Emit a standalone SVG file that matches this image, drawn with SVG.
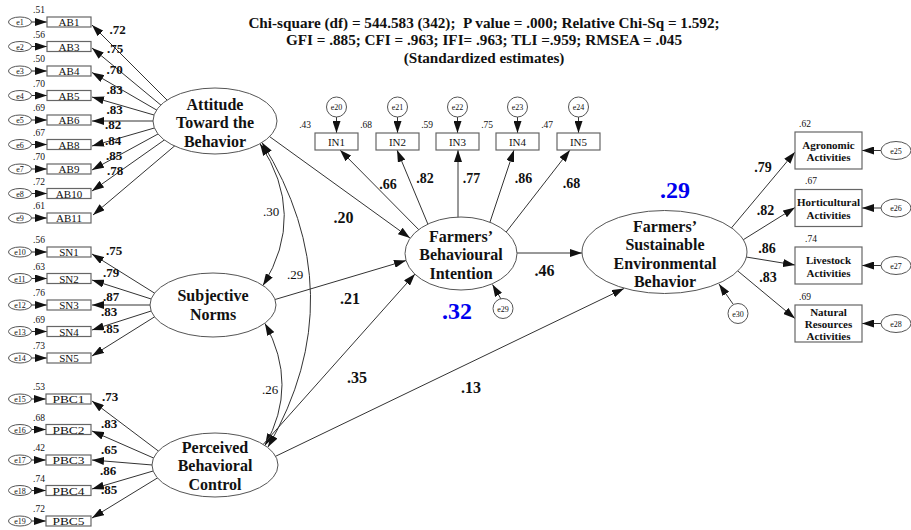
<svg xmlns="http://www.w3.org/2000/svg" width="911" height="530" viewBox="0 0 911 530">
<style>
text{font-family:"Liberation Serif","Times New Roman",serif;fill:#111}
.lat{fill:#fff;stroke:#555;stroke-width:1}
.obs{fill:#fff;stroke:#666;stroke-width:1.2}
.err{fill:#fff;stroke:#555;stroke-width:1}
.ln{fill:none;stroke:#333;stroke-width:1;marker-end:url(#ah)}
.cov{fill:none;stroke:#333;stroke-width:1;marker-end:url(#ah);marker-start:url(#ahs)}
.lt{font-size:16px;font-weight:bold;text-anchor:middle}
.bx{font-size:11px;text-anchor:middle}
.rb{font-size:11px;font-weight:bold;text-anchor:middle}
.el{font-size:8px;text-anchor:middle}
.r2{font-size:9.5px}
.ld{font-size:13px;font-weight:bold;text-anchor:middle}
.ld2{font-size:14px;font-weight:bold;text-anchor:middle}
.sp{font-size:16px;font-weight:bold;text-anchor:middle}
.cv{font-size:13px;text-anchor:middle}
.big{font-size:24px;font-weight:bold;text-anchor:middle;fill:#0000ee}
.ttl{font-size:15.2px;font-weight:bold;text-anchor:middle}
</style>
<defs>
<marker id="ah" markerUnits="userSpaceOnUse" markerWidth="13" markerHeight="8" refX="12" refY="4" orient="auto"><path d="M0,0 L12,4 L0,8 z" fill="#111"/></marker>
<marker id="ahs" markerUnits="userSpaceOnUse" markerWidth="13" markerHeight="8" refX="12" refY="4" orient="auto-start-reverse"><path d="M0,0 L12,4 L0,8 z" fill="#111"/></marker>
</defs>

<g id="title">
<text class="ttl" x="484" y="27.5" xml:space="preserve">Chi-square (df) = 544.583 (342);  P value = .000; Relative Chi-Sq = 1.592;</text>
<text class="ttl" x="484" y="45">GFI = .885; CFI = .963; IFI= .963; TLI =.959; RMSEA = .045</text>
<text class="ttl" x="484" y="62.5">(Standardized estimates)</text>
</g>

<g id="connectors">
<line class="ln" x1="31.5" y1="22" x2="47" y2="22"/>
<line class="ln" x1="31.5" y1="46.5" x2="47" y2="46.5"/>
<line class="ln" x1="31.5" y1="71" x2="47" y2="71"/>
<line class="ln" x1="31.5" y1="95.5" x2="47" y2="95.5"/>
<line class="ln" x1="31.5" y1="120" x2="47" y2="120"/>
<line class="ln" x1="31.5" y1="144.5" x2="47" y2="144.5"/>
<line class="ln" x1="31.5" y1="169" x2="47" y2="169"/>
<line class="ln" x1="31.5" y1="193.5" x2="47" y2="193.5"/>
<line class="ln" x1="31.5" y1="218" x2="47" y2="218"/>
<line class="ln" x1="31.5" y1="252" x2="47" y2="252"/>
<line class="ln" x1="31.5" y1="278.5" x2="47" y2="278.5"/>
<line class="ln" x1="31.5" y1="305" x2="47" y2="305"/>
<line class="ln" x1="31.5" y1="331.5" x2="47" y2="331.5"/>
<line class="ln" x1="31.5" y1="358" x2="47" y2="358"/>
<line class="ln" x1="31.5" y1="399" x2="46" y2="399"/>
<line class="ln" x1="31.5" y1="429.5" x2="46" y2="429.5"/>
<line class="ln" x1="31.5" y1="460" x2="46" y2="460"/>
<line class="ln" x1="31.5" y1="490.5" x2="46" y2="490.5"/>
<line class="ln" x1="31.5" y1="521" x2="46" y2="521"/>
<line class="ln" x1="170" y1="103" x2="92" y2="25"/>
<line class="ln" x1="163.9" y1="107.6" x2="92" y2="48"/>
<line class="ln" x1="160" y1="112" x2="92" y2="72.5"/>
<line class="ln" x1="157.8" y1="116.1" x2="92" y2="97"/>
<line class="ln" x1="157" y1="121" x2="92" y2="121"/>
<line class="ln" x1="158.2" y1="126.9" x2="92" y2="146"/>
<line class="ln" x1="161.5" y1="132.1" x2="92" y2="170"/>
<line class="ln" x1="167.6" y1="137.7" x2="92" y2="191"/>
<line class="ln" x1="177.6" y1="143.4" x2="93" y2="215"/>
<line class="ln" x1="157.7" y1="295.1" x2="92" y2="254"/>
<line class="ln" x1="154.9" y1="300.2" x2="92" y2="280"/>
<line class="ln" x1="154" y1="305" x2="92" y2="305"/>
<line class="ln" x1="154.9" y1="309.8" x2="92" y2="330"/>
<line class="ln" x1="157.7" y1="314.9" x2="92" y2="356"/>
<line class="ln" x1="161.5" y1="453.4" x2="92" y2="401"/>
<line class="ln" x1="157.2" y1="459.6" x2="92" y2="431"/>
<line class="ln" x1="156" y1="465.3" x2="92" y2="460"/>
<line class="ln" x1="156.9" y1="469.9" x2="92" y2="489"/>
<line class="ln" x1="160.8" y1="475.9" x2="92" y2="518"/>
<path class="cov" d="M260,143.7 Q307,214.5 263,285.5"/>
<path class="cov" d="M262,142.5 Q356,294.5 268,447"/>
<path class="cov" d="M265,323.5 Q299,385 265,445.5"/>
<line class="ln" x1="266" y1="134" x2="410" y2="238"/>
<line class="ln" x1="270" y1="301" x2="406" y2="260.5"/>
<line class="ln" x1="260" y1="448" x2="415" y2="274"/>
<line class="ln" x1="272" y1="458" x2="624" y2="288.5"/>
<line class="ln" x1="515" y1="253" x2="582" y2="253"/>
<line class="ln" x1="425" y1="236" x2="340" y2="150"/>
<line class="ln" x1="432" y1="234" x2="397" y2="150"/>
<line class="ln" x1="458" y1="230" x2="458" y2="150"/>
<line class="ln" x1="486" y1="234" x2="514" y2="150"/>
<line class="ln" x1="500" y1="240" x2="570" y2="150"/>
<line class="ln" x1="336.5" y1="117" x2="336.5" y2="133"/>
<line class="ln" x1="397.5" y1="117" x2="397.5" y2="133"/>
<line class="ln" x1="457.5" y1="117" x2="457.5" y2="133"/>
<line class="ln" x1="517.5" y1="117" x2="517.5" y2="133"/>
<line class="ln" x1="578.5" y1="117" x2="578.5" y2="133"/>
<line class="ln" x1="501" y1="299" x2="492.5" y2="284.5"/>
<line class="ln" x1="728" y1="232" x2="795" y2="152"/>
<line class="ln" x1="738" y1="243" x2="795" y2="207.5"/>
<line class="ln" x1="740" y1="256" x2="795" y2="265"/>
<line class="ln" x1="733" y1="267" x2="795" y2="318.5"/>
<line class="ln" x1="733" y1="304" x2="719" y2="284"/>
<line class="ln" x1="881" y1="150.5" x2="862" y2="150.5"/>
<line class="ln" x1="881" y1="208" x2="862" y2="208"/>
<line class="ln" x1="881" y1="265.5" x2="862" y2="265.5"/>
<line class="ln" x1="881" y1="323.5" x2="862" y2="323.5"/>
</g>

<g id="attitude">
<ellipse class="lat" cx="215" cy="121" rx="62" ry="33"/>
<text class="lt" x="215" y="109.5">Attitude</text>
<text class="lt" x="215" y="128">Toward the</text>
<text class="lt" x="215" y="146.5">Behavior</text>
</g>
<g id="subjective-norms">
<ellipse class="lat" cx="213" cy="305" rx="63" ry="32"/>
<text class="lt" x="213" y="300.5">Subjective</text>
<text class="lt" x="213" y="320">Norms</text>
</g>
<g id="pbc">
<ellipse class="lat" cx="215" cy="465" rx="63" ry="32"/>
<text class="lt" x="215" y="452.5">Perceived</text>
<text class="lt" x="215" y="471">Behavioral</text>
<text class="lt" x="215" y="489.5">Control</text>
</g>
<g id="intention">
<ellipse class="lat" cx="461" cy="253.5" rx="56" ry="36.5"/>
<text class="lt" x="461" y="241.5">Farmers’</text>
<text class="lt" x="461" y="260">Behavioural</text>
<text class="lt" x="461" y="278.5">Intention</text>
</g>
<g id="seb">
<ellipse class="lat" cx="664.5" cy="252" rx="82.5" ry="41.5"/>
<text class="lt" x="665" y="231.5">Farmers’</text>
<text class="lt" x="665" y="250">Sustainable</text>
<text class="lt" x="665" y="268.5">Environmental</text>
<text class="lt" x="665" y="287">Behavior</text>
</g>

<g id="AB1"><ellipse class="err" cx="20" cy="22" rx="11.5" ry="5"/><text class="el" x="20" y="25">e1</text><rect class="obs" x="47" y="17" width="44" height="10"/><text class="bx" x="69" y="26">AB1</text><text class="r2" x="33" y="13">.51</text></g>
<g id="AB3"><ellipse class="err" cx="20" cy="46.5" rx="11.5" ry="5"/><text class="el" x="20" y="49.5">e2</text><rect class="obs" x="47" y="41.5" width="44" height="10"/><text class="bx" x="69" y="50.5">AB3</text><text class="r2" x="33" y="37.5">.56</text></g>
<g id="AB4"><ellipse class="err" cx="20" cy="71" rx="11.5" ry="5"/><text class="el" x="20" y="74">e3</text><rect class="obs" x="47" y="66" width="44" height="10"/><text class="bx" x="69" y="75">AB4</text><text class="r2" x="33" y="62">.50</text></g>
<g id="AB5"><ellipse class="err" cx="20" cy="95.5" rx="11.5" ry="5"/><text class="el" x="20" y="98.5">e4</text><rect class="obs" x="47" y="90.5" width="44" height="10"/><text class="bx" x="69" y="99.5">AB5</text><text class="r2" x="33" y="86.5">.70</text></g>
<g id="AB6"><ellipse class="err" cx="20" cy="120" rx="11.5" ry="5"/><text class="el" x="20" y="123">e5</text><rect class="obs" x="47" y="115" width="44" height="10"/><text class="bx" x="69" y="124">AB6</text><text class="r2" x="33" y="111">.69</text></g>
<g id="AB8"><ellipse class="err" cx="20" cy="144.5" rx="11.5" ry="5"/><text class="el" x="20" y="147.5">e6</text><rect class="obs" x="47" y="139.5" width="44" height="10"/><text class="bx" x="69" y="148.5">AB8</text><text class="r2" x="33" y="135.5">.67</text></g>
<g id="AB9"><ellipse class="err" cx="20" cy="169" rx="11.5" ry="5"/><text class="el" x="20" y="172">e7</text><rect class="obs" x="47" y="164" width="44" height="10"/><text class="bx" x="69" y="173">AB9</text><text class="r2" x="33" y="160">.70</text></g>
<g id="AB10"><ellipse class="err" cx="20" cy="193.5" rx="11.5" ry="5"/><text class="el" x="20" y="196.5">e8</text><rect class="obs" x="47" y="188.5" width="44" height="10"/><text class="bx" x="69" y="197.5">AB10</text><text class="r2" x="33" y="184.5">.72</text></g>
<g id="AB11"><ellipse class="err" cx="20" cy="218" rx="11.5" ry="5"/><text class="el" x="20" y="221">e9</text><rect class="obs" x="47" y="213" width="44" height="10"/><text class="bx" x="69" y="222">AB11</text><text class="r2" x="33" y="209">.61</text></g>

<g id="SN1"><ellipse class="err" cx="20" cy="252" rx="11.5" ry="5"/><text class="el" x="20" y="255">e10</text><rect class="obs" x="47" y="247" width="44" height="10"/><text class="bx" x="69" y="256">SN1</text><text class="r2" x="33" y="243">.56</text></g>
<g id="SN2"><ellipse class="err" cx="20" cy="278.5" rx="11.5" ry="5"/><text class="el" x="20" y="281.5">e11</text><rect class="obs" x="47" y="273.5" width="44" height="10"/><text class="bx" x="69" y="282.5">SN2</text><text class="r2" x="33" y="269.5">.63</text></g>
<g id="SN3"><ellipse class="err" cx="20" cy="305" rx="11.5" ry="5"/><text class="el" x="20" y="308">e12</text><rect class="obs" x="47" y="300" width="44" height="10"/><text class="bx" x="69" y="309">SN3</text><text class="r2" x="33" y="296">.76</text></g>
<g id="SN4"><ellipse class="err" cx="20" cy="331.5" rx="11.5" ry="5"/><text class="el" x="20" y="334.5">e13</text><rect class="obs" x="47" y="326.5" width="44" height="10"/><text class="bx" x="69" y="335.5">SN4</text><text class="r2" x="33" y="322.5">.69</text></g>
<g id="SN5"><ellipse class="err" cx="20" cy="358" rx="11.5" ry="5"/><text class="el" x="20" y="361">e14</text><rect class="obs" x="47" y="353" width="44" height="10"/><text class="bx" x="69" y="362">SN5</text><text class="r2" x="33" y="349">.73</text></g>

<g id="PBC1"><ellipse class="err" cx="20" cy="399" rx="11.5" ry="5"/><text class="el" x="20" y="402">e15</text><rect class="obs" x="46" y="394" width="45" height="10"/><text class="bx" x="68.5" y="403" textLength="32" lengthAdjust="spacingAndGlyphs">PBC1</text><text class="r2" x="33" y="390">.53</text></g>
<g id="PBC2"><ellipse class="err" cx="20" cy="429.5" rx="11.5" ry="5"/><text class="el" x="20" y="432.5">e16</text><rect class="obs" x="46" y="424.5" width="45" height="10"/><text class="bx" x="68.5" y="433.5" textLength="32" lengthAdjust="spacingAndGlyphs">PBC2</text><text class="r2" x="33" y="420.5">.68</text></g>
<g id="PBC3"><ellipse class="err" cx="20" cy="460" rx="11.5" ry="5"/><text class="el" x="20" y="463">e17</text><rect class="obs" x="46" y="455" width="45" height="10"/><text class="bx" x="68.5" y="464" textLength="32" lengthAdjust="spacingAndGlyphs">PBC3</text><text class="r2" x="33" y="451">.42</text></g>
<g id="PBC4"><ellipse class="err" cx="20" cy="490.5" rx="11.5" ry="5"/><text class="el" x="20" y="493.5">e18</text><rect class="obs" x="46" y="485.5" width="45" height="10"/><text class="bx" x="68.5" y="494.5" textLength="32" lengthAdjust="spacingAndGlyphs">PBC4</text><text class="r2" x="33" y="481.5">.74</text></g>
<g id="PBC5"><ellipse class="err" cx="20" cy="521" rx="11.5" ry="5"/><text class="el" x="20" y="524">e19</text><rect class="obs" x="46" y="516" width="45" height="10"/><text class="bx" x="68.5" y="525" textLength="32" lengthAdjust="spacingAndGlyphs">PBC5</text><text class="r2" x="33" y="512">.72</text></g>

<g id="IN1"><circle class="err" cx="336.5" cy="107" r="10"/><text class="el" x="336.5" y="110">e20</text><rect class="obs" x="315" y="133" width="43" height="17"/><text class="bx" x="336.5" y="145.5">IN1</text><text class="r2" x="311" y="128" text-anchor="end">.43</text></g>
<g id="IN2"><circle class="err" cx="397.5" cy="107" r="10"/><text class="el" x="397.5" y="110">e21</text><rect class="obs" x="376" y="133" width="43" height="17"/><text class="bx" x="397.5" y="145.5">IN2</text><text class="r2" x="372" y="128" text-anchor="end">.68</text></g>
<g id="IN3"><circle class="err" cx="457.5" cy="107" r="10"/><text class="el" x="457.5" y="110">e22</text><rect class="obs" x="436" y="133" width="43" height="17"/><text class="bx" x="457.5" y="145.5">IN3</text><text class="r2" x="433" y="128" text-anchor="end">.59</text></g>
<g id="IN4"><circle class="err" cx="517.5" cy="107" r="10"/><text class="el" x="517.5" y="110">e23</text><rect class="obs" x="496" y="133" width="43" height="17"/><text class="bx" x="517.5" y="145.5">IN4</text><text class="r2" x="493" y="128" text-anchor="end">.75</text></g>
<g id="IN5"><circle class="err" cx="578.5" cy="107" r="10"/><text class="el" x="578.5" y="110">e24</text><rect class="obs" x="557" y="133" width="43" height="17"/><text class="bx" x="578.5" y="145.5">IN5</text><text class="r2" x="553" y="128" text-anchor="end">.47</text></g>
<g id="e29"><circle class="err" cx="503" cy="308.5" r="10"/><text class="el" x="503" y="311.5">e29</text></g>
<g id="e30"><circle class="err" cx="738" cy="313.5" r="10"/><text class="el" x="738" y="316.5">e30</text></g>

<g id="agronomic"><rect class="obs" x="795" y="132" width="67" height="37"/><text class="rb" x="828.5" y="149">Agronomic</text><text class="rb" x="828.5" y="161">Activities</text><ellipse class="err" cx="896" cy="150.5" rx="15" ry="9"/><text class="el" x="896" y="153.5">e25</text><text class="r2" x="799" y="127">.62</text></g>
<g id="horticultural"><rect class="obs" x="795" y="189.5" width="67" height="37"/><text class="rb" x="828.5" y="205.5">Horticultural</text><text class="rb" x="828.5" y="219">Activities</text><ellipse class="err" cx="896" cy="208" rx="15" ry="9"/><text class="el" x="896" y="211">e26</text><text class="r2" x="805" y="184">.67</text></g>
<g id="livestock"><rect class="obs" x="795" y="247" width="67" height="37"/><text class="rb" x="828.5" y="264">Livestock</text><text class="rb" x="828.5" y="276.5">Activities</text><ellipse class="err" cx="896" cy="265.5" rx="15" ry="9"/><text class="el" x="896" y="268.5">e27</text><text class="r2" x="805" y="242">.74</text></g>
<g id="natural"><rect class="obs" x="795" y="305" width="67" height="37"/><text class="rb" x="828.5" y="316">Natural</text><text class="rb" x="828.5" y="328">Resources</text><text class="rb" x="828.5" y="340">Activities</text><ellipse class="err" cx="896" cy="323.5" rx="15" ry="9"/><text class="el" x="896" y="326.5">e28</text><text class="r2" x="799" y="300">.69</text></g>

<g id="labels">
<text class="ld" x="117.5" y="33.5">.72</text>
<text class="ld" x="115" y="53">.75</text>
<text class="ld" x="114.5" y="73.5">.70</text>
<text class="ld" x="114.5" y="93.5">.83</text>
<text class="ld" x="114.5" y="113.5">.83</text>
<text class="ld" x="113" y="128.5">.82</text>
<text class="ld" x="113" y="144.5">.84</text>
<text class="ld" x="114" y="159.5">.85</text>
<text class="ld" x="115" y="174.5">.78</text>
<text class="ld" x="114" y="254.5">.75</text>
<text class="ld" x="111" y="276.5">.79</text>
<text class="ld" x="111" y="300.5">.87</text>
<text class="ld" x="109" y="315.5">.83</text>
<text class="ld" x="111" y="332.5">.85</text>
<text class="ld" x="110" y="400.5">.73</text>
<text class="ld" x="109" y="427.5">.83</text>
<text class="ld" x="109" y="453.5">.65</text>
<text class="ld" x="108" y="474.5">.86</text>
<text class="ld" x="109" y="493.5">.85</text>
<text class="cv" x="271" y="215.5">.30</text>
<text class="cv" x="295" y="278.5">.29</text>
<text class="cv" x="270" y="393.5">.26</text>
<text class="sp" x="343.5" y="223">.20</text>
<text class="sp" x="350" y="304">.21</text>
<text class="sp" x="544.5" y="276">.46</text>
<text class="sp" x="357" y="383">.35</text>
<text class="sp" x="471" y="393">.13</text>
<text class="ld2" x="388" y="189">.66</text>
<text class="ld2" x="425" y="183">.82</text>
<text class="ld2" x="471.5" y="183">.77</text>
<text class="ld2" x="523.5" y="183">.86</text>
<text class="ld2" x="571.5" y="188">.68</text>
<text class="ld2" x="763" y="172">.79</text>
<text class="ld2" x="765.5" y="215">.82</text>
<text class="ld2" x="767" y="253">.86</text>
<text class="ld2" x="768" y="282">.83</text>
<text class="big" x="457" y="319">.32</text>
<text class="big" x="675" y="197.5">.29</text>
</g>
</svg>
